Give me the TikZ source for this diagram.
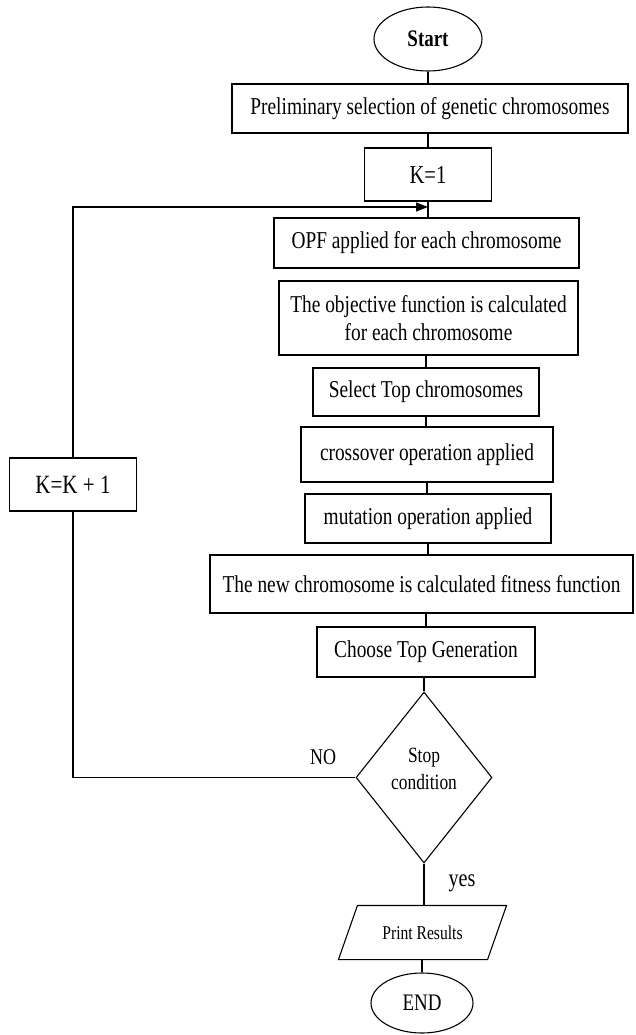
\documentclass[tikz,border=0pt]{standalone}
\usepackage{fontspec}
\setmainfont{Liberation Serif}[FakeStretch=0.8]
\usetikzlibrary{shapes.geometric,arrows.meta}
\begin{document}
\begin{tikzpicture}[x=1pt,y=-1pt,line width=1.1pt,
  box/.style={draw,rectangle,inner sep=0pt,align=center,font=\fontsize{24.2}{28}\selectfont},
  term/.style={draw,ellipse,inner sep=0pt,font=\fontsize{23.7}{26}\selectfont},
  lbl/.style={inner sep=0pt,font=\fontsize{24}{26}\selectfont},
  conn/.style={draw,line width=1.1pt},
  loopar/.style={conn,-{Triangle[length=12pt,width=9pt]}}]
\useasboundingbox (0,0) rectangle (635,1035);
\node[term,minimum width=108pt,minimum height=64pt,font=\bfseries\fontsize{23.7}{26}\selectfont] (start) at (428,39) {Start};
\node[box,minimum width=396pt,minimum height=49pt] (prelim) at (430,108.5) {Preliminary selection of genetic chromosomes};
\node[box,minimum width=127pt,minimum height=53pt,font=\fontsize{25.8}{28}\selectfont] (k1) at (428,174.5) {K=1};
\node[box,minimum width=305pt,minimum height=50pt] (opf) at (426.5,243) {OPF applied for each chromosome};
\node[box,minimum width=299pt,minimum height=74pt] (obj) at (428.5,318) {The objective function is calculated\\for each chromosome};
\node[box,minimum width=226pt,minimum height=48pt] (sel) at (426,392) {Select Top chromosomes};
\node[box,minimum width=252pt,minimum height=55pt] (cross) at (427,454.5) {crossover operation applied};
\node[box,minimum width=246pt,minimum height=49pt] (mut) at (428,518.5) {mutation operation applied};
\node[box,minimum width=423pt,minimum height=58pt] (newc) at (421.5,584) {The new chromosome is calculated fitness function};
\node[box,minimum width=218pt,minimum height=50pt] (choose) at (426,652) {Choose Top Generation};
\node[draw,diamond,inner sep=0pt,minimum width=136pt,minimum height=171pt] (stop) at (424,777.5) {};
\node[inner sep=0pt,align=center,font=\fontsize{21.8}{27}\selectfont] (stoptxt) at (424,768.5) {Stop\\condition};
\node[inner sep=0pt,minimum width=148pt,minimum height=53pt,font=\fontsize{19.5}{22}\selectfont] (print) at (422.5,932.5) {Print Results};
\draw ([xshift=9.5pt]print.north west) -- ([xshift=9.5pt]print.north east) -- ([xshift=-9.5pt]print.south east) -- ([xshift=-9.5pt]print.south west) -- cycle;
\node[term,minimum width=102pt,minimum height=60pt] (end) at (422,1003) {END};
\node[box,minimum width=127pt,minimum height=53pt,font=\fontsize{26.3}{28}\selectfont] (kk) at (73,484.5) {K=K + 1};
\node[lbl,font=\fontsize{22.5}{26}\selectfont] (no) at (323,757) {NO};
\node[lbl,font=\fontsize{25}{26}\selectfont] (yes) at (462,883) {yes};
\coordinate (looptop) at (428,207);
\path[conn] (start.south) -- (start.south |- prelim.north);
\path[conn] (prelim.south -| k1.north) -- (k1.north);
\path[conn] (k1.south) -- (k1.south |- opf.north);
\path[conn] (opf.south -| sel.north) -- (opf.south -| sel.north |- obj.north);
\path[conn] (obj.south -| sel.north) -- (sel.north);
\path[conn] (sel.south) -- (sel.south |- cross.north);
\path[conn] (cross.south) -- (cross.south |- mut.north);
\path[conn] (mut.south) -- (mut.south |- newc.north);
\path[conn] (newc.south -| choose.north) -- (choose.north);
\path[conn] (choose.south -| stop.north) -- (stop.north);
\path[conn] (stop.south) -- (stop.south |- print.north);
\path[conn] (print.south -| end.north) -- (end.north);
\path[conn] (stop.west) -- (stop.west -| kk.south) -- (kk.south);
\path[loopar] (kk.north) -- (kk.north |- looptop) -- (looptop);
\end{tikzpicture}
\end{document}
